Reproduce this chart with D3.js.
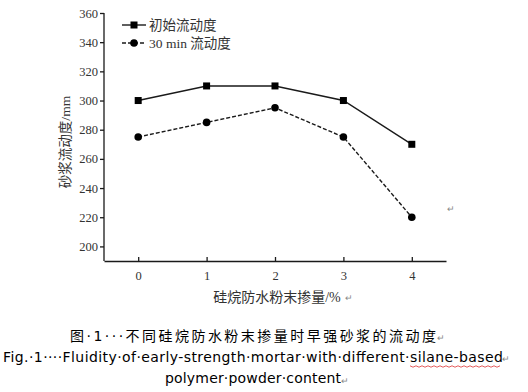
<!DOCTYPE html>
<html><head><meta charset="utf-8">
<script src="https://cdn.jsdelivr.net/npm/d3@7/dist/d3.min.js"></script>
<style>body{margin:0;background:#fff}svg{display:block}</style>
</head><body>
<svg id="c" width="528" height="392"></svg>
<script>
const categories = [0, 1, 2, 3, 4];
const seriesNames = ["初始流动度", "30 min 流动度"];
const initialFlow = [300, 310, 310, 300, 270];
const flow30min = [275, 285, 295, 275, 220];
const yTicks = [200, 220, 240, 260, 280, 300, 320, 340, 360];
const xTitle = "硅烷防水粉末掺量/%";
const yTitle = "砂浆流动度/mm";
const captionCN = "图·1···不同硅烷防水粉末掺量时早强砂浆的流动度";
const captionEN1 = "Fig.·1····Fluidity·of·early-strength·mortar·with·different·silane-based";
const captionEN2 = "polymer·powder·content";

const svg = d3.select("#c");
const x = d3.scaleLinear().domain([-0.5, 4.5]).range([104, 446]);
const y = d3.scaleLinear().domain([190, 360]).range([261, 13]);
const serif = "'Liberation Serif','Times New Roman','Noto Sans CJK SC',serif";
const ink = "#1a1a1a";

// axes
const ya = svg.append("g").attr("transform", "translate(104,0)")
  .call(d3.axisLeft(y).tickValues(yTicks).tickSize(4).tickPadding(2).tickSizeOuter(0));
ya.select(".domain").attr("d", `M0,${y(360)}V${y(190)}`);
const xa = svg.append("g").attr("transform", "translate(0,261)")
  .call(d3.axisBottom(x).tickValues(categories).tickFormat(d3.format("d"))
    .tickSize(-4).tickPadding(10).tickSizeOuter(0));
[ya, xa].forEach(g => {
  g.selectAll("path,line").attr("stroke", ink).attr("stroke-width", 1.3);
  g.selectAll("text").attr("fill", "#333").style("font-family", serif).style("font-size", "12.5px");
});

// lines
const line = d3.line().x((d, i) => x(categories[i])).y(d => y(d));
svg.append("path").datum(initialFlow).attr("d", line).attr("fill", "none")
  .attr("stroke", ink).attr("stroke-width", 1.4);
svg.append("path").datum(flow30min).attr("d", line).attr("fill", "none")
  .attr("stroke", ink).attr("stroke-width", 1.4).attr("stroke-dasharray", "4,2");
svg.selectAll(".sq").data(initialFlow).enter().append("rect")
  .attr("x", (d, i) => x(categories[i]) - 3.5).attr("y", d => y(d) - 3.5)
  .attr("width", 7).attr("height", 7).attr("fill", "#000");
svg.selectAll(".ci").data(flow30min).enter().append("circle")
  .attr("cx", (d, i) => x(categories[i])).attr("cy", d => y(d)).attr("r", 3.8).attr("fill", "#000");

// legend
const lg = svg.append("g");
[0, 1].forEach(i => {
  const yy = 25 + i * 18;
  lg.append("line").attr("x1", 122).attr("x2", 146).attr("y1", yy).attr("y2", yy)
    .attr("stroke", ink).attr("stroke-width", 1.4).attr("stroke-dasharray", i ? "4,2" : null);
  if (i === 0) lg.append("rect").attr("x", 130.5).attr("y", yy - 3.5).attr("width", 7).attr("height", 7).attr("fill", "#000");
  else lg.append("circle").attr("cx", 134).attr("cy", yy).attr("r", 3.8).attr("fill", "#000");
  lg.append("text").attr("x", 149).attr("y", yy + 4.5).text(seriesNames[i])
    .attr("fill", "#333").style("font-family", serif).style("font-size", "13.5px");
});

// axis titles
svg.append("text").attr("transform", "translate(70,142) rotate(-90)").attr("text-anchor", "middle")
  .text(yTitle).attr("fill", "#333").style("font-family", serif).style("font-size", "13.5px");
svg.append("text").attr("x", 277).attr("y", 302).attr("text-anchor", "middle")
  .text(xTitle).attr("fill", "#333").style("font-family", serif).style("font-size", "14px");
svg.append("text").attr("x", 345).attr("y", 301).text("↵").attr("fill", "#888").style("font-size", "9px");
svg.append("text").attr("x", 447).attr("y", 212).text("↵").attr("fill", "#888").style("font-size", "9px");

// caption
const sans = "'DejaVu Sans','Noto Sans CJK SC',sans-serif";
svg.append("text").attr("x", 70).attr("y", 341).text(captionCN).attr("textLength", 366)
  .attr("fill", "#000").style("font-family", sans).style("font-size", "14px");
svg.append("text").attr("x", 437).attr("y", 341).text("↵").attr("fill", "#888").style("font-size", "9px");
svg.append("text").attr("x", 3).attr("y", 362).text(captionEN1).attr("textLength", 500)
  .attr("fill", "#000").style("font-family", "'DejaVu Sans',sans-serif").style("font-size", "14px");
svg.append("text").attr("x", 502).attr("y", 362).text("↵").attr("fill", "#888").style("font-size", "9px");
svg.append("text").attr("x", 165).attr("y", 383).text(captionEN2).attr("textLength", 176)
  .attr("fill", "#000").style("font-family", "'DejaVu Sans',sans-serif").style("font-size", "14px");
svg.append("text").attr("x", 341).attr("y", 384).text("↵").attr("fill", "#888").style("font-size", "9px");
// wavy underline under "silane-based"
const wave = d3.range(0, 93, 3).map((v, i) => [410 + v, 366 + (i % 2 ? 1.2 : -0.2)]);
svg.append("path").attr("d", d3.line()(wave)).attr("fill", "none").attr("stroke", "#d33").attr("stroke-width", 0.8);
</script>
</body></html>
